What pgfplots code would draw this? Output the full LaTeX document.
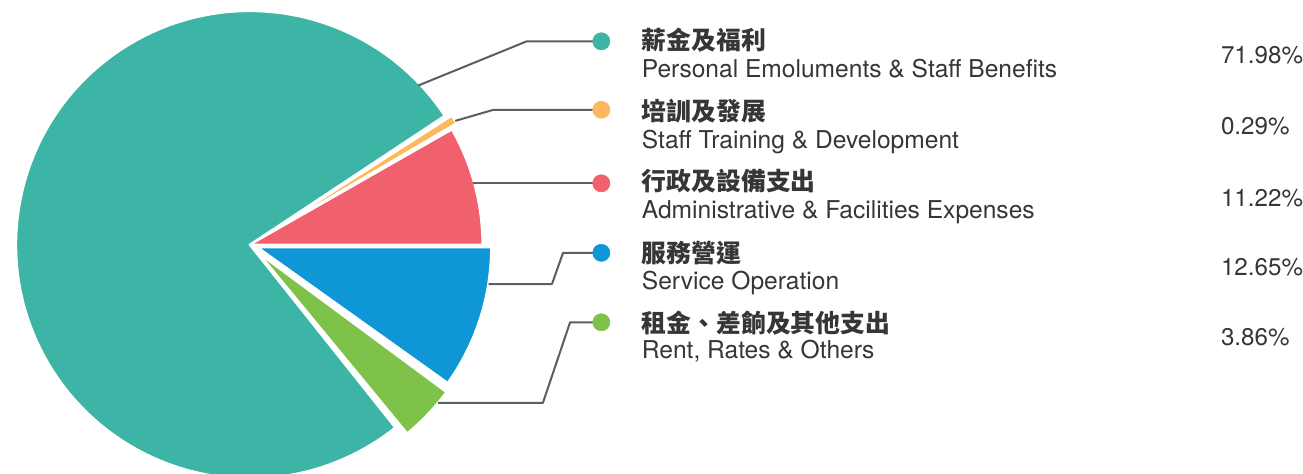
\documentclass[border=0pt]{standalone}
\usepackage{pgfplots}
\pgfplotsset{compat=1.18}
\usepackage{pgfplotstable}
\usepackage{fontspec}
\setmainfont{TeX Gyre Heros}
\newfontfamily\cjk{Noto Sans CJK TC}

\definecolor{cTeal}{HTML}{3DB5A6}
\definecolor{cOrange}{HTML}{FDB75C}
\definecolor{cRed}{HTML}{F0606D}
\definecolor{cBlue}{HTML}{0E96D6}
\definecolor{cGreen}{HTML}{7EC24A}
\definecolor{cLine}{HTML}{5E5E5E}
\definecolor{cText}{HTML}{363636}

% slice angles as drawn (degrees, ccw from east), radius and explode offset in px
\pgfplotstableread{
col start end r explode
cTeal 33.5 308.5 232 0
cOrange 30.4 32.6 232 6
cRed 0 29.7 231 0
cBlue -35.5 0 232 8
cGreen -50.5 -36.5 232 12
}\slices

\begin{document}
\begin{tikzpicture}
\begin{axis}[
    x=0.75pt, y=0.75pt,
    xmin=0, xmax=1303, ymin=0, ymax=470,
    hide axis,
    clip=true,
    lead/.style={color=cLine, line width=1.5pt, line join=round},
    dot/.style={only marks, mark=*, mark size=6.4pt},
]
% pie sectors, centre at (248,227)
\pgfplotsinvokeforeach{0,...,4}{
  \pgfplotstablegetelem{#1}{col}\of\slices \edef\col{\pgfplotsretval}
  \pgfplotstablegetelem{#1}{start}\of\slices \edef\sa{\pgfplotsretval}
  \pgfplotstablegetelem{#1}{end}\of\slices \edef\ea{\pgfplotsretval}
  \pgfplotstablegetelem{#1}{r}\of\slices \edef\rad{\pgfplotsretval}
  \pgfplotstablegetelem{#1}{explode}\of\slices \edef\ex{\pgfplotsretval}
  \pgfmathsetmacro\md{(\sa+\ea)/2}
  \pgfmathsetmacro\ox{248+\ex*cos(\md)}
  \pgfmathsetmacro\oy{227+\ex*sin(\md)}
  \pgfmathsetmacro\px{\ox+\rad*cos(\sa)}
  \pgfmathsetmacro\py{\oy+\rad*sin(\sa)}
  \pgfmathsetmacro\rr{\rad*0.75}
  \edef\cmd{\noexpand\fill[fill=\col, draw=white, line width=1.6pt, line join=round]
    (axis cs:\ox,\oy) -- (axis cs:\px,\py)
    arc[start angle=\sa, end angle=\ea, radius=\rr pt] -- cycle;}
  \cmd
}

% leader lines
\addplot[lead] coordinates {(415,385) (523,429) (597,429)};
\addplot[lead] coordinates {(452,350) (490,361) (597,361)};
\addplot[lead] coordinates {(470,288) (597,288)};
\addplot[lead] coordinates {(485,188) (548,188) (559,219) (597,219)};
\addplot[lead] coordinates {(435,70) (539,70) (566,150) (597,150)};

% legend dots
\addplot[dot, color=cTeal] coordinates {(597,429)};
\addplot[dot, color=cOrange] coordinates {(597,361)};
\addplot[dot, color=cRed] coordinates {(597,288)};
\addplot[dot, color=cBlue] coordinates {(597,219)};
\addplot[dot, color=cGreen] coordinates {(597,150)};

% labels
\begin{scope}[every node/.style={inner sep=0pt, text=cText}]
\node[anchor=west, font=\cjk\bfseries\fontsize{18.5}{20}\selectfont] at (axis cs:637,430) {薪金及福利};
\node[anchor=west, font=\cjk\bfseries\fontsize{18.5}{20}\selectfont] at (axis cs:637,360) {培訓及發展};
\node[anchor=west, font=\cjk\bfseries\fontsize{18.5}{20}\selectfont] at (axis cs:637,290) {行政及設備支出};
\node[anchor=west, font=\cjk\bfseries\fontsize{18.5}{20}\selectfont] at (axis cs:637,219) {服務營運};
\node[anchor=west, font=\cjk\bfseries\fontsize{18.5}{20}\selectfont] at (axis cs:637,149) {租金、差餉及其他支出};

\node[anchor=base west, font=\fontsize{18.3}{20}\selectfont] at (axis cs:637,393) {Personal Emoluments \& Staff Benefits};
\node[anchor=base west, font=\fontsize{18.3}{20}\selectfont] at (axis cs:637,323) {Staff Training \& Development};
\node[anchor=base west, font=\fontsize{18.3}{20}\selectfont] at (axis cs:637,253) {Administrative \& Facilities Expenses};
\node[anchor=base west, font=\fontsize{18.3}{20}\selectfont] at (axis cs:637,183) {Service Operation};
\node[anchor=base west, font=\fontsize{18.3}{20}\selectfont] at (axis cs:637,114) {Rent, Rates \& Others};

\node[anchor=west, font=\fontsize{18}{20}\selectfont] at (axis cs:1212,415) {71.98\%};
\node[anchor=west, font=\fontsize{18}{20}\selectfont] at (axis cs:1212,345) {0.29\%};
\node[anchor=west, font=\fontsize{18}{20}\selectfont] at (axis cs:1212,273) {11.22\%};
\node[anchor=west, font=\fontsize{18}{20}\selectfont] at (axis cs:1212,205) {12.65\%};
\node[anchor=west, font=\fontsize{18}{20}\selectfont] at (axis cs:1212,135) {3.86\%};
\end{scope}
\end{axis}
\end{tikzpicture}
\end{document}
